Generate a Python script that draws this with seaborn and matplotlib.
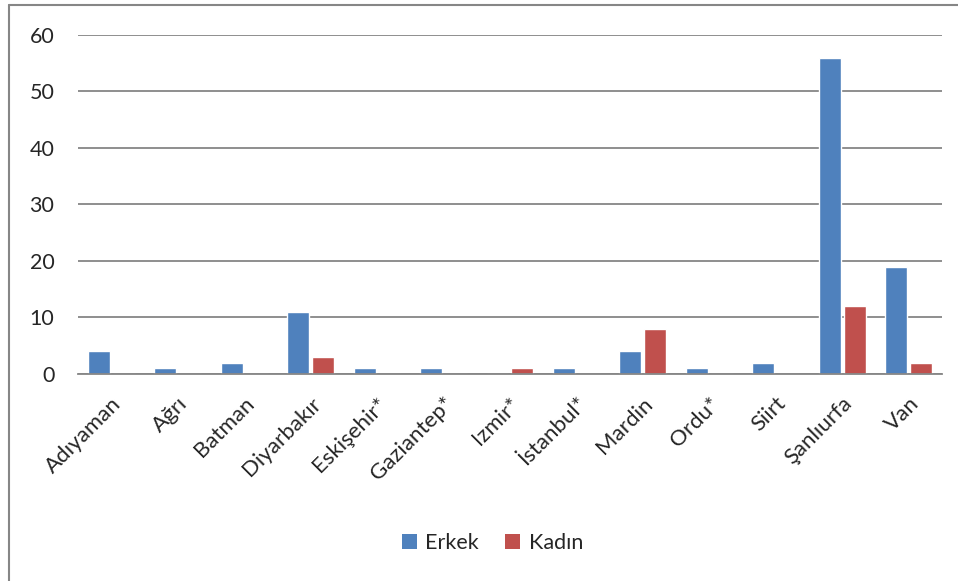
import pandas as pd
import matplotlib.pyplot as plt
import seaborn as sns
from matplotlib.lines import Line2D
from matplotlib.patches import Patch

# Data
cities = ["Adıyaman", "Ağrı", "Batman", "Diyarbakır", "Eskişehir*", "Gaziantep*",
          "Izmir*", "İstanbul*", "Mardin", "Ordu*", "Siirt", "Şanlıurfa", "Van"]
erkek = [4, 1, 2, 11, 1, 1, 0, 1, 4, 1, 2, 56, 19]
kadin = [0, 0, 0, 3, 0, 0, 1, 0, 8, 0, 0, 12, 2]
series = ["Erkek", "Kadın"]
colors = ["#4F81BD", "#C0504D"]

data = pd.DataFrame({
    "Şehir": cities * 2,
    "Sayı": erkek + kadin,
    "Cinsiyet": [series[0]] * len(cities) + [series[1]] * len(cities),
})

sns.set_style("white")
plt.rcParams["font.family"] = ["Lato", "DejaVu Sans"]

fig = plt.figure(figsize=(9.58, 5.81), dpi=100)
ax = fig.add_axes([0.0814, 0.3563, 0.9019, 0.5835])

sns.barplot(data=data, x="Şehir", y="Sayı", hue="Cinsiyet", palette=colors,
            width=0.75, gap=0.12, saturation=1, legend=False, ax=ax)

ax.set_ylim(0, 60)
ax.set_xlim(-0.5, len(cities) - 0.5)
ax.set_yticks(range(0, 61, 10))
ax.yaxis.grid(True, color="#868686", linewidth=1.3)
ax.set_axisbelow(True)
for s in ["left", "right", "top"]:
    ax.spines[s].set_visible(False)
ax.spines["bottom"].set_color("#868686")
ax.spines["bottom"].set_linewidth(1.3)
ax.set_xlabel("")
ax.set_ylabel("")
ax.tick_params(axis="y", length=0, pad=17, labelsize=15.5)
ax.tick_params(axis="x", length=0, pad=14, labelsize=16)
plt.setp(ax.get_xticklabels(), rotation=45, ha="right", rotation_mode="anchor")

# Legend at the bottom
handles = [Patch(facecolor=c, edgecolor="none") for c in colors]
fig.legend(handles, series, loc="center", bbox_to_anchor=(0.514, 0.065),
           ncol=2, frameon=False, fontsize=15.5, handlelength=0.7, handleheight=0.7,
           handletextpad=0.4, columnspacing=1.2)

# Chart border (left and top edges visible)
fig.add_artist(Line2D([9 / 958, 9 / 958], [0, 1 - 5 / 581], transform=fig.transFigure,
                      color="#868686", linewidth=1.5))
fig.add_artist(Line2D([9 / 958, 1], [1 - 5 / 581, 1 - 5 / 581], transform=fig.transFigure,
                      color="#868686", linewidth=1.5))

plt.savefig("out.png", dpi=100)
